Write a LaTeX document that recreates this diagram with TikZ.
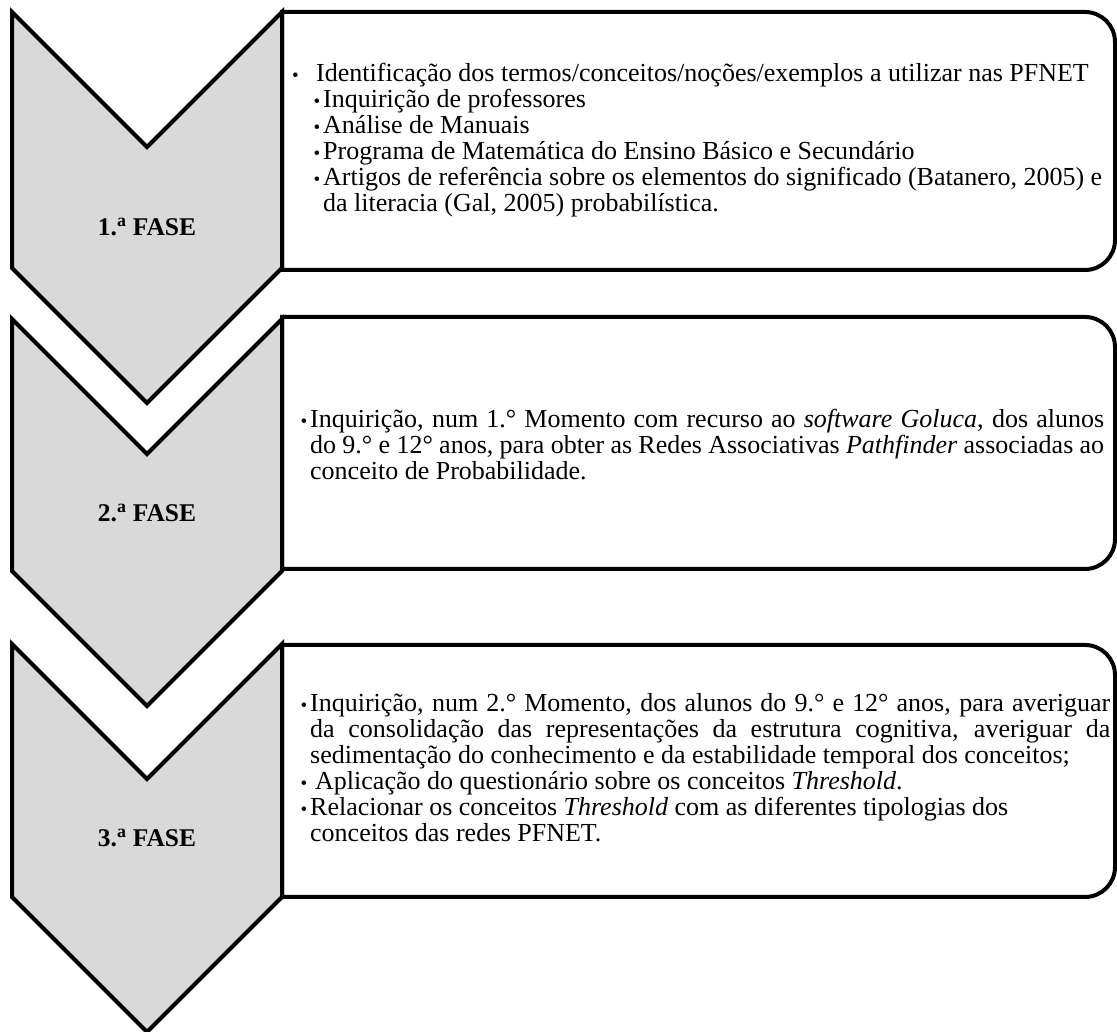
\documentclass[tikz,border=0pt]{standalone}
\usepackage{fontspec}
\setmainfont{Liberation Serif}
\definecolor{fasegray}{HTML}{D9D9D9}
\tikzstyle{seta} = [draw=black, line width=4pt, fill=fasegray]
\tikzstyle{caixa} = [draw=black, line width=4pt, fill=white]
\tikzstyle{fase} = [font=\fontsize{25.5}{26}\selectfont\bfseries, inner sep=0pt]
\tikzstyle{texto} = [font=\fontsize{26}{26}\selectfont, anchor=base west, inner sep=0pt, align=justify]
\newcommand{\bul}{\leavevmode\llap{{\fontsize{19}{19}\selectfont\textbullet}\hspace{3pt}}}
\begin{document}
\begin{tikzpicture}[x=1pt,y=1pt]
			\useasboundingbox (0,0) rectangle (1117,1032);
			% caixas de texto
			\draw[caixa] (282,1020) -- (1085,1020) arc (90:0:30) -- (1115,792) arc (0:-90:30) -- (282,762) -- cycle;
			\draw[caixa] (282,715) -- (1085,715) arc (90:0:30) -- (1115,493) arc (0:-90:30) -- (282,463) -- cycle;
			\draw[caixa] (282,387) -- (1085,387) arc (90:0:30) -- (1115,165) arc (0:-90:30) -- (282,135) -- cycle;
			% setas das fases
			\draw[seta] (12,1020) -- (147,885) -- (282,1020) -- (282,764) -- (147,629) -- (12,764) -- cycle;
			\draw[seta] (12,713) -- (147,578) -- (282,713) -- (282,461) -- (147,326) -- (12,461) -- cycle;
			\draw[seta] (12,388) -- (147,253) -- (282,388) -- (282,135) -- (147,0) -- (12,135) -- cycle;
			\node[fase] (fase1) at (147,805) {1.\textsuperscript{a} FASE};
			\node[fase] (fase2) at (147,519) {2.\textsuperscript{a} FASE};
			\node[fase] (fase3) at (147,194) {3.\textsuperscript{a} FASE};
			\node[texto, text width=810pt] (texto1) at (292,950) {\makebox[24pt][l]{\fontsize{19}{19}\selectfont\textbullet}Identificação dos termos/conceitos/noções/exemplos a utilizar nas PFNET\par
				{\leftskip=31pt \bul Inquirição de professores\par
				\bul Análise de Manuais\par
				\bul Programa de Matemática do Ensino Básico e Secundário\par
				\bul Artigos de referência sobre os elementos do significado (Batanero, 2005) e\linebreak da literacia (Gal, 2005) probabilística.\par}};
			\node[texto, text width=794pt] (texto2) at (310,604) {\bul Inquirição, num 1.° Momento com recurso ao \textit{software Goluca}, dos alunos\linebreak do 9.° e 12° anos, para obter as Redes Associativas \textit{Pathfinder} associadas ao\linebreak conceito de Probabilidade.};
			\node[texto, text width=800pt] (texto3) at (310,320) {\bul Inquirição, num 2.° Momento, dos alunos do 9.° e 12° anos, para averiguar\linebreak da consolidação das representações da estrutura cognitiva, averiguar da\linebreak sedimentação do conhecimento e da estabilidade temporal dos conceitos;\par
				\bul\hspace{5pt}Aplicação do questionário sobre os conceitos \textit{Threshold}.\par
				\bul Relacionar os conceitos \textit{Threshold} com as diferentes tipologias dos\par
				conceitos das redes PFNET.};
		\end{tikzpicture}
\end{document}
